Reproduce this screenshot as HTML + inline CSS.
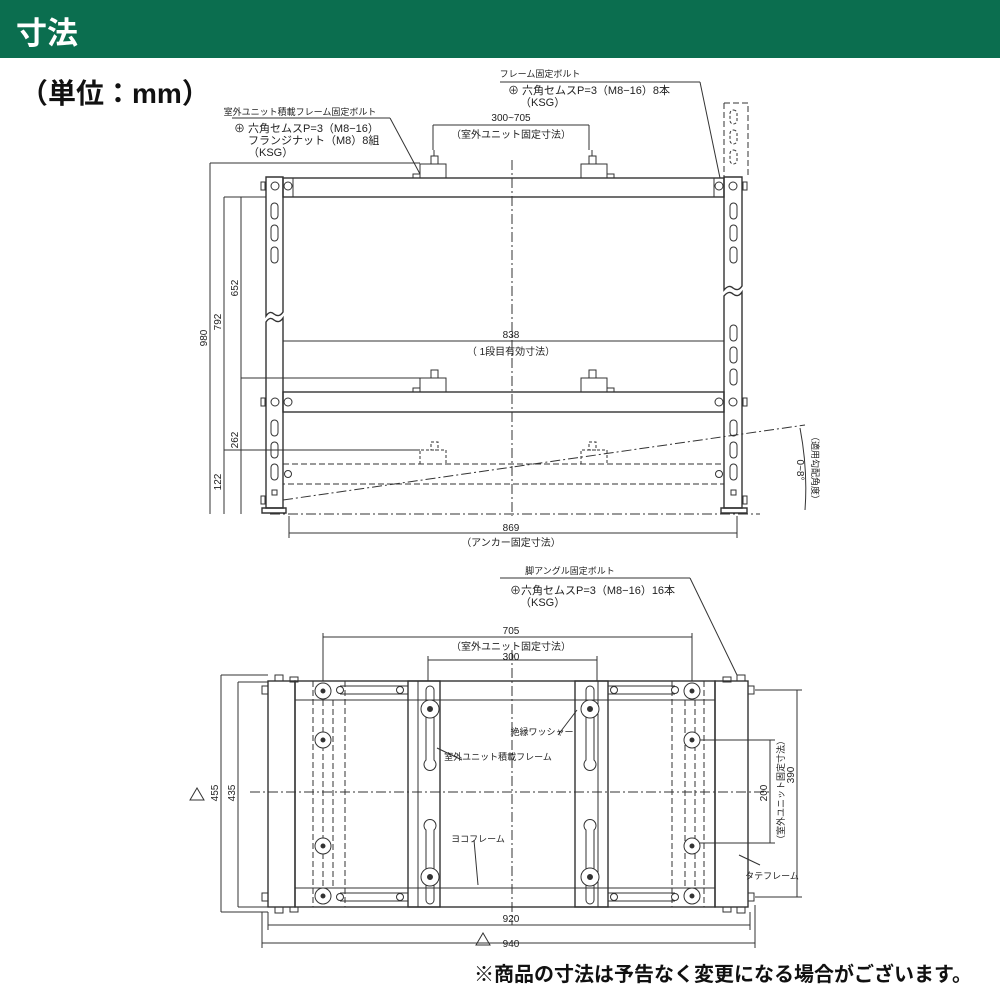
<!DOCTYPE html>
<html><head><meta charset="utf-8"><style>
html,body{margin:0;padding:0;background:#fff;}
body{width:1000px;height:1000px;position:relative;overflow:hidden;font-family:"Liberation Sans","Noto Sans CJK JP",sans-serif;}
.hd{position:absolute;left:0;top:0;width:1000px;height:58px;background:#0b6e4f;}
.hd span{position:absolute;left:16px;top:8px;color:#fff;font-size:31px;font-weight:bold;}
.unit{position:absolute;left:20px;top:72px;font-size:28px;font-weight:bold;color:#111;}
.note{position:absolute;right:28px;top:958px;font-size:20px;font-weight:bold;color:#111;}
svg{position:absolute;left:0;top:0;}
svg text{font-family:"Liberation Sans","Noto Sans CJK JP",sans-serif;fill:#222;}
</style></head><body>
<div class="hd"><span>寸法</span></div>
<div class="unit">（単位：mm）</div>
<svg width="1000" height="1000" viewBox="0 0 1000 1000">
<g stroke="#333" stroke-width="1" fill="none">
<line x1="512" y1="160" x2="512" y2="516" stroke-dasharray="10,3,2,3"/>
<line x1="270" y1="514" x2="760" y2="514" stroke-dasharray="10,3,2,3"/>
<g stroke-width="1.4">
<path d="M266 177 H283 V312 Q279 318 274 314 Q270 310 266 316 Z"/>
<path d="M266 322 Q270 316 274 320 Q279 324 283 318 V508 H266 Z"/>
<path d="M262 508 H286 V513 H262 Z"/>
<path d="M724 177 H742 V286 Q738 292 733 288 Q729 284 724 290 Z"/>
<path d="M724 296 Q729 290 733 294 Q738 298 742 292 V508 H724 Z"/>
<path d="M721 508 H747 V513 H721 Z"/>
<rect x="283" y="178" width="441" height="19"/>
<rect x="283" y="392" width="441" height="20"/>
</g>
<path d="M724 103 H748 V177" stroke-dasharray="6,3"/>
<line x1="724" y1="103" x2="724" y2="177" stroke-dasharray="6,3"/>
<rect x="283" y="178" width="10" height="19"/>
<rect x="714" y="178" width="10" height="19"/>
<rect x="283" y="464" width="441" height="20" stroke-dasharray="6,3"/>
<rect x="271" y="203" width="7" height="16" rx="3.5"/><rect x="271" y="225" width="7" height="16" rx="3.5"/><rect x="271" y="247" width="7" height="16" rx="3.5"/>
<rect x="271" y="420" width="7" height="16" rx="3.5"/><rect x="271" y="442" width="7" height="16" rx="3.5"/><rect x="271" y="464" width="7" height="16" rx="3.5"/>
<rect x="272" y="490" width="5" height="5"/>
<rect x="730" y="203" width="7" height="16" rx="3.5"/><rect x="730" y="225" width="7" height="16" rx="3.5"/><rect x="730" y="247" width="7" height="16" rx="3.5"/>
<rect x="730" y="325" width="7" height="16" rx="3.5"/><rect x="730" y="347" width="7" height="16" rx="3.5"/><rect x="730" y="369" width="7" height="16" rx="3.5"/>
<rect x="730" y="420" width="7" height="16" rx="3.5"/><rect x="730" y="442" width="7" height="16" rx="3.5"/><rect x="730" y="464" width="7" height="16" rx="3.5"/>
<rect x="731" y="490" width="5" height="5"/>
<rect x="730" y="110" width="7" height="14" rx="3.5" stroke-dasharray="3,2"/><rect x="730" y="130" width="7" height="14" rx="3.5" stroke-dasharray="3,2"/><rect x="730" y="150" width="7" height="14" rx="3.5" stroke-dasharray="3,2"/>
<g fill="#fff">
<circle cx="275" cy="186" r="4"/><circle cx="288" cy="186" r="4"/><circle cx="719" cy="186" r="4"/><circle cx="733" cy="186" r="4"/>
<circle cx="275" cy="402" r="4"/><circle cx="288" cy="402" r="4"/><circle cx="719" cy="402" r="4"/><circle cx="733" cy="402" r="4"/>
<circle cx="288" cy="474" r="3.5"/><circle cx="719" cy="474" r="3.5"/>
</g>
<rect x="261" y="182" width="4" height="8"/><rect x="743" y="182" width="4" height="8"/>
<rect x="261" y="398" width="4" height="8"/><rect x="743" y="398" width="4" height="8"/>
<rect x="261" y="496" width="4" height="8"/><rect x="743" y="496" width="4" height="8"/>
<g>
<path d="M420 178 V164 H446 V178"/><rect x="431" y="156" width="7" height="8"/><line x1="434" y1="150" x2="434" y2="156"/><path d="M413 178 v-4 h7 v4"/>
<path d="M581 178 V164 H607 V178"/><rect x="589" y="156" width="7" height="8"/><line x1="592" y1="150" x2="592" y2="156"/><path d="M607 178 v-4 h7 v4"/>
<path d="M420 392 V378 H446 V392"/><rect x="431" y="370" width="7" height="8"/><path d="M413 392 v-4 h7 v4"/>
<path d="M581 392 V378 H607 V392"/><rect x="589" y="370" width="7" height="8"/><path d="M607 392 v-4 h7 v4"/>
<g stroke-dasharray="3,2"><path d="M420 464 V450 H446 V464"/><rect x="431" y="442" width="7" height="8"/>
<path d="M581 464 V450 H607 V464"/><rect x="589" y="442" width="7" height="8"/></g>
</g>
<line x1="283" y1="500" x2="805" y2="425" stroke-dasharray="10,3,2,3"/>
<path d="M800 428 Q808 470 805 510" />
<line x1="210" y1="163" x2="420" y2="163"/>
<line x1="210" y1="163" x2="210" y2="514"/>
<line x1="224" y1="197" x2="266" y2="197"/>
<line x1="224" y1="197" x2="224" y2="514"/>
<line x1="241" y1="197" x2="241" y2="514"/>
<line x1="241" y1="378" x2="420" y2="378"/>
<line x1="224" y1="450" x2="420" y2="450"/>
<line x1="283" y1="341" x2="724" y2="341"/>
<line x1="289" y1="516" x2="289" y2="538"/><line x1="737" y1="516" x2="737" y2="538"/>
<line x1="289" y1="533" x2="737" y2="533"/>
<line x1="433" y1="125" x2="589" y2="125"/><line x1="433" y1="125" x2="433" y2="150"/><line x1="589" y1="125" x2="589" y2="150"/>
<line x1="232" y1="118" x2="390" y2="118"/><line x1="390" y1="118" x2="420" y2="174"/>
<line x1="500" y1="82" x2="700" y2="82"/><line x1="700" y1="82" x2="720" y2="178"/>

<line x1="512" y1="650" x2="512" y2="925" stroke-dasharray="10,3,2,3"/>
<line x1="250" y1="792" x2="770" y2="792" stroke-dasharray="10,3,2,3"/>
<g stroke-width="1.4">
<rect x="268" y="681" width="27" height="226"/>
<rect x="715" y="681" width="33" height="226"/>
<rect x="295" y="681" width="420" height="226"/>
<rect x="408" y="681" width="32" height="226"/><rect x="575" y="681" width="33" height="226"/>
</g>
<line x1="295" y1="700" x2="715" y2="700"/>
<line x1="295" y1="888" x2="715" y2="888"/>
<line x1="340" y1="686" x2="408" y2="686"/><line x1="340" y1="694" x2="408" y2="694"/>
<line x1="608" y1="686" x2="675" y2="686"/><line x1="608" y1="694" x2="675" y2="694"/>
<line x1="340" y1="893" x2="408" y2="893"/><line x1="340" y1="901" x2="408" y2="901"/>
<line x1="608" y1="893" x2="675" y2="893"/><line x1="608" y1="901" x2="675" y2="901"/>
<g stroke-dasharray="6,3">
<line x1="313" y1="681" x2="313" y2="907"/><line x1="345" y1="681" x2="345" y2="907"/>
<line x1="323" y1="700" x2="323" y2="888"/><line x1="333" y1="700" x2="333" y2="888"/>
<line x1="672" y1="681" x2="672" y2="907"/><line x1="704" y1="681" x2="704" y2="907"/>
<line x1="685" y1="700" x2="685" y2="888"/><line x1="695" y1="700" x2="695" y2="888"/>
</g>
<line x1="418" y1="681" x2="418" y2="907"/><line x1="598" y1="681" x2="598" y2="907"/>
<path d="M426 690 a4 4 0 0 1 8 0 V760 a6 6 0 1 1 -8 0 Z"/>
<path d="M426 830 a6 6 0 1 1 8 0 V900 a4 4 0 0 1 -8 0 Z"/>
<path d="M586 690 a4 4 0 0 1 8 0 V760 a6 6 0 1 1 -8 0 Z"/>
<path d="M586 830 a6 6 0 1 1 8 0 V900 a4 4 0 0 1 -8 0 Z"/>
<g fill="#fff">
<circle cx="430" cy="709" r="9"/><circle cx="590" cy="709" r="9"/><circle cx="430" cy="877" r="9"/><circle cx="590" cy="877" r="9"/>
<circle cx="323" cy="691" r="8"/><circle cx="323" cy="740" r="8"/><circle cx="323" cy="846" r="8"/><circle cx="323" cy="896" r="8"/>
<circle cx="692" cy="691" r="8"/><circle cx="692" cy="740" r="8"/><circle cx="692" cy="846" r="8"/><circle cx="692" cy="896" r="8"/>
<circle cx="340" cy="690" r="3.5"/><circle cx="400" cy="690" r="3.5"/><circle cx="614" cy="690" r="3.5"/><circle cx="675" cy="690" r="3.5"/>
<circle cx="340" cy="897" r="3.5"/><circle cx="400" cy="897" r="3.5"/><circle cx="614" cy="897" r="3.5"/><circle cx="675" cy="897" r="3.5"/>
</g>
<g fill="#333">
<circle cx="430" cy="709" r="2.5"/><circle cx="590" cy="709" r="2.5"/><circle cx="430" cy="877" r="2.5"/><circle cx="590" cy="877" r="2.5"/>
<circle cx="323" cy="691" r="2"/><circle cx="323" cy="740" r="2"/><circle cx="323" cy="846" r="2"/><circle cx="323" cy="896" r="2"/>
<circle cx="692" cy="691" r="2"/><circle cx="692" cy="740" r="2"/><circle cx="692" cy="846" r="2"/><circle cx="692" cy="896" r="2"/>
</g>
<rect x="275" y="675" width="8" height="6"/><rect x="290" y="677" width="8" height="5"/><rect x="723" y="677" width="8" height="5"/><rect x="737" y="675" width="8" height="6"/>
<rect x="275" y="907" width="8" height="6"/><rect x="290" y="907" width="8" height="5"/><rect x="723" y="907" width="8" height="5"/><rect x="737" y="907" width="8" height="6"/>
<rect x="262" y="686" width="6" height="8"/><rect x="748" y="686" width="6" height="8"/><rect x="262" y="893" width="6" height="8"/><rect x="748" y="893" width="6" height="8"/>
<line x1="221" y1="675" x2="268" y2="675"/><line x1="221" y1="675" x2="221" y2="912"/><line x1="221" y1="912" x2="268" y2="912"/>
<line x1="238" y1="682" x2="268" y2="682"/><line x1="238" y1="682" x2="238" y2="907"/><line x1="238" y1="907" x2="268" y2="907"/>
<line x1="262" y1="912" x2="262" y2="948"/><line x1="755" y1="905" x2="755" y2="948"/><line x1="262" y1="943" x2="755" y2="943"/>
<line x1="268" y1="912" x2="268" y2="930"/><line x1="750" y1="912" x2="750" y2="930"/><line x1="268" y1="925" x2="750" y2="925"/>
<line x1="323" y1="633" x2="323" y2="681"/><line x1="692" y1="633" x2="692" y2="681"/><line x1="323" y1="637" x2="692" y2="637"/>
<line x1="428" y1="656" x2="428" y2="681"/><line x1="597" y1="656" x2="597" y2="681"/><line x1="428" y1="660" x2="597" y2="660"/>
<line x1="755" y1="690" x2="802" y2="690"/><line x1="755" y1="897" x2="802" y2="897"/><line x1="797" y1="690" x2="797" y2="897"/>
<line x1="700" y1="740" x2="775" y2="740"/><line x1="700" y1="843" x2="775" y2="843"/><line x1="770" y1="740" x2="770" y2="843"/>
<line x1="500" y1="578" x2="690" y2="578"/><line x1="690" y1="578" x2="737" y2="675"/>
<line x1="577" y1="710" x2="558" y2="735"/>
<line x1="437" y1="748" x2="462" y2="760"/>
<line x1="474" y1="840" x2="478" y2="885"/>
<line x1="739" y1="855" x2="760" y2="865"/>
</g>
<g font-size="10" text-anchor="middle">
<text x="300" y="115" font-size="9">室外ユニット積載フレーム固定ボルト</text>
<text x="234" y="132" text-anchor="start" font-size="11">⊕ 六角セムスP=3（M8−16）</text>
<text x="248" y="144" text-anchor="start" font-size="11">フランジナット（M8）8組</text>
<text x="248" y="156" text-anchor="start" font-size="11">（KSG）</text>
<text x="540" y="77" font-size="9">フレーム固定ボルト</text>
<text x="508" y="94" text-anchor="start" font-size="11">⊕ 六角セムスP=3（M8−16）8本</text>
<text x="520" y="106" text-anchor="start" font-size="11">（KSG）</text>
<text x="511" y="121">300~705</text>
<text x="511" y="138">（室外ユニット固定寸法）</text>
<text x="511" y="338">838</text>
<text x="511" y="355">（ 1段目有効寸法）</text>
<text x="511" y="531">869</text>
<text x="511" y="546">（アンカー固定寸法）</text>
<text transform="translate(207,338) rotate(-90)">980</text>
<text transform="translate(221,322) rotate(-90)">792</text>
<text transform="translate(238,288) rotate(-90)">652</text>
<text transform="translate(238,440) rotate(-90)">262</text>
<text transform="translate(221,482) rotate(-90)">122</text>
<text transform="translate(797,470) rotate(90)">0~8°</text>
<text transform="translate(812,468) rotate(90)" font-size="9">（適用勾配角度）</text>
<text x="570" y="574" font-size="9">脚アングル固定ボルト</text>
<text x="510" y="594" text-anchor="start" font-size="11">⊕六角セムスP=3（M8−16）16本</text>
<text x="520" y="606" text-anchor="start" font-size="11">（KSG）</text>
<text x="511" y="634">705</text>
<text x="511" y="650">（室外ユニット固定寸法）</text>
<text x="511" y="660">300</text>
<text x="542" y="735" font-size="9">絶縁ワッシャー</text>
<text x="498" y="760" font-size="9">室外ユニット積載フレーム</text>
<text x="478" y="842" font-size="9">ヨコフレーム</text>
<text x="772" y="879" font-size="9">タテフレーム</text>
<text x="511" y="922">920</text>
<text x="511" y="947">940</text>
<text transform="translate(218,793) rotate(-90)">455</text>
<text transform="translate(235,793) rotate(-90)">435</text>
<text transform="translate(767,793) rotate(-90)">200</text>
<text transform="translate(794,775) rotate(-90)">390</text>
<text transform="translate(784,790) rotate(-90)" font-size="9">（室外ユニット固定寸法）</text>
</g>
<g stroke="#333" fill="none">
<path d="M190 800 L197 788 L204 800 Z"/>
<path d="M476 945 L483 933 L490 945 Z"/>
</g>
</svg>
<div class="note">※商品の寸法は予告なく変更になる場合がございます。</div>
</body></html>
